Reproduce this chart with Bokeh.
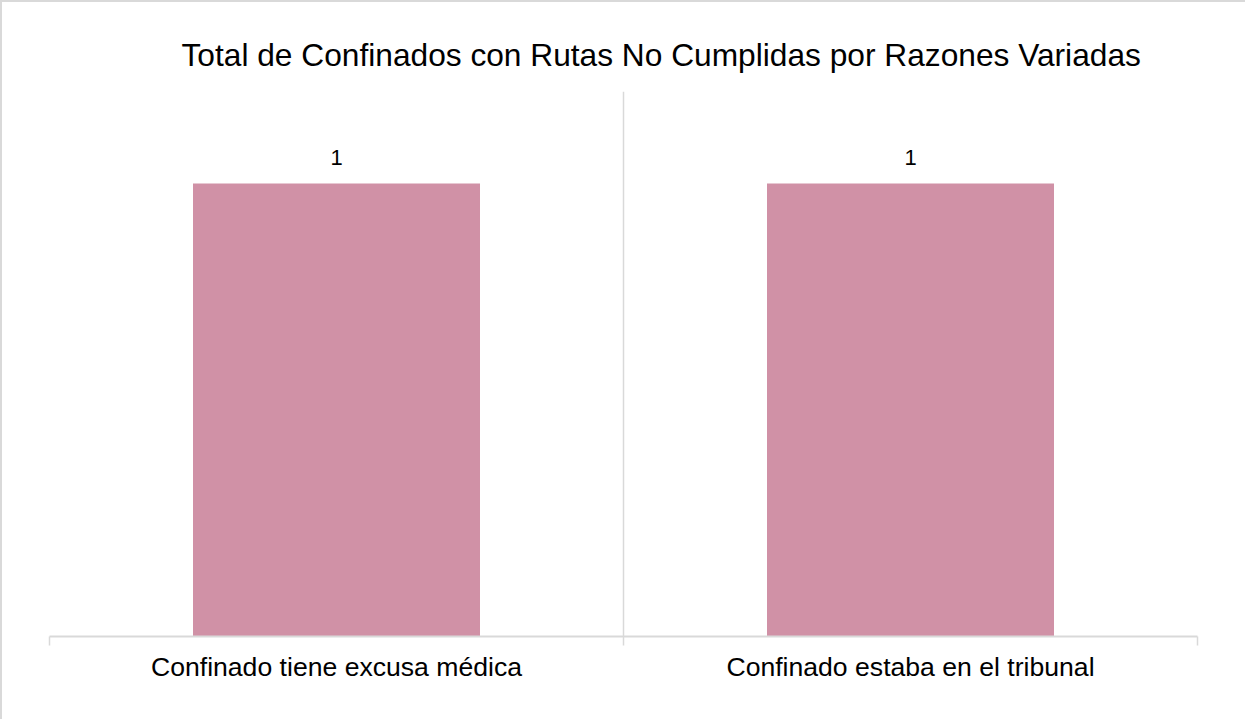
from bokeh.plotting import figure
from bokeh.models import FixedTicker, LabelSet, ColumnDataSource, Range1d, Title
from bokeh.core.properties import value
from bokeh.embed import file_html
from bokeh.resources import INLINE

categories = ["Confinado tiene excusa médica", "Confinado estaba en el tribunal"]
values = [1, 1]
title_text = "Total de Confinados con Rutas No Cumplidas por Razones Variadas"

xs = [i + 0.5 for i in range(len(categories))]
src = ColumnDataSource(dict(x=xs, top=values, label=[str(v) for v in values]))

p = figure(width=1245, height=719, output_backend="svg", toolbar_location=None,
           x_range=Range1d(0, len(categories)), y_range=Range1d(0, 1.203),
           min_border_left=47, min_border_right=50, min_border_top=89, min_border_bottom=85)
p.outline_line_color = None
p.background_fill_color = "white"
p.border_fill_color = "white"
p.styles = {"border-left": "2px solid #d9d9d9", "border-top": "2px solid #d9d9d9"}

p.vbar(x="x", top="top", width=0.5, source=src, fill_color="#D091A6", line_color=None)

labels = LabelSet(x="x", y="top", text="label", source=src, y_offset=18,
                  text_align="center", text_baseline="alphabetic",
                  text_font=value("Liberation Sans"), text_font_size="22px", text_color="black")
p.add_layout(labels)

p.yaxis.visible = False
p.ygrid.visible = False
p.xgrid.ticker = FixedTicker(ticks=list(range(len(categories) + 1)))
p.xgrid.grid_line_color = "#d9d9d9"
p.xgrid.grid_line_width = 1.5

ax = p.xaxis[0]
ax.ticker = FixedTicker(ticks=xs, minor_ticks=list(range(len(categories) + 1)))
ax.major_label_overrides = {x: c for x, c in zip(xs, categories)}
ax.major_tick_line_color = None
ax.minor_tick_out = 9
ax.minor_tick_in = 0
ax.minor_tick_line_color = "#d9d9d9"
ax.minor_tick_line_width = 1.5
ax.axis_line_color = "#d9d9d9"
ax.axis_line_width = 2
ax.major_label_text_font = "Liberation Sans"
ax.major_label_text_font_size = "26.6px"
ax.major_label_text_color = "black"
ax.major_label_standoff = 6

t = Title(text=title_text, align="left", offset=132, text_font="Liberation Sans",
          text_font_size="31.7px", text_font_style="normal", text_color="black",
          standoff=38)
p.add_layout(t, "above")

open("out.html", "w").write(file_html(p, INLINE))
